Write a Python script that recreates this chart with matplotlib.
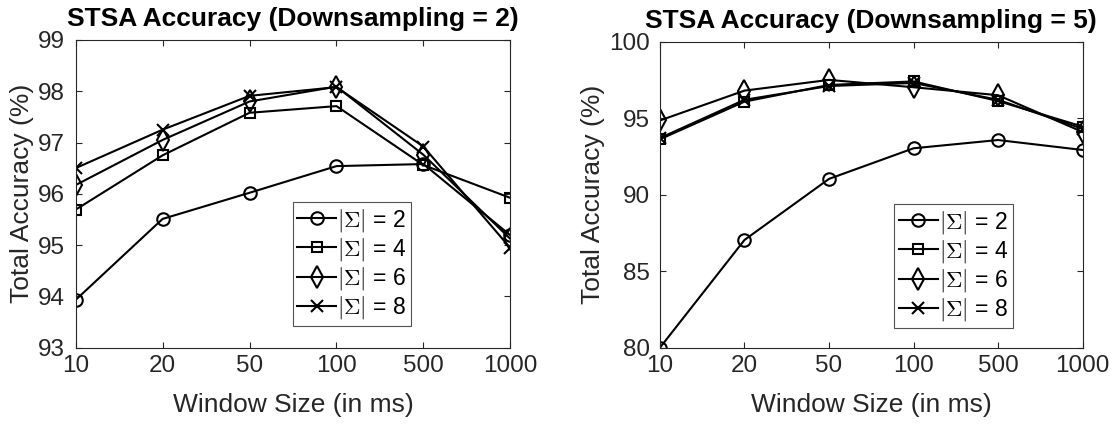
import numpy as np
import matplotlib
matplotlib.use('Agg')
import matplotlib.pyplot as plt

plt.rcParams['font.family'] = ['Liberation Sans', 'DejaVu Sans']
plt.rcParams['mathtext.fontset'] = 'cm'

windows = ['10', '20', '50', '100', '500', '1000']
labels = [r'$|\Sigma|$ = 2', r'$|\Sigma|$ = 4', r'$|\Sigma|$ = 6', r'$|\Sigma|$ = 8']
markers = ['o', 's', 'd', 'x']
msizes = [9, 7.5, 11, 8]

# downsampling = 2
ds2_s2 = [93.93, 95.51, 96.02, 96.54, 96.58, 95.19]
ds2_s4 = [95.69, 96.75, 97.58, 97.71, 96.56, 95.92]
ds2_s6 = [96.17, 97.05, 97.80, 98.09, 96.76, 95.12]
ds2_s8 = [96.50, 97.25, 97.91, 98.08, 96.92, 94.94]

# downsampling = 5
ds5_s2 = [80.0, 87.04, 91.03, 93.03, 93.57, 92.92]
ds5_s4 = [93.62, 96.08, 97.17, 97.40, 96.12, 94.45]
ds5_s6 = [94.85, 96.80, 97.50, 97.02, 96.50, 94.10]
ds5_s8 = [93.70, 96.20, 97.10, 97.30, 96.20, 94.30]

grey = '#262626'
fig = plt.figure(figsize=(11.12, 4.25), dpi=100)
ax1 = fig.add_axes([0.068, 0.182, 0.391, 0.724])
ax2 = fig.add_axes([0.5935, 0.182, 0.38, 0.720])

def draw(ax, series, title, ylim, yticks, legloc):
    x = np.arange(len(windows))
    for vals, m, ms, lab in zip(series, markers, msizes, labels):
        ax.plot(x, vals, color='black', lw=1.5, marker=m, ms=ms,
                mfc='none', mec='black', mew=1.5, label=lab)
    ax.set_xlim(0, len(windows) - 1)
    ax.set_ylim(*ylim)
    ax.set_xticks(x)
    ax.set_xticklabels(windows)
    ax.set_yticks(yticks)
    ax.tick_params(direction='in', top=True, right=True, labelsize=17.5,
                   colors=grey, length=4)
    ax.tick_params(axis='x', pad=5)
    ax.tick_params(axis='y', pad=7.5)
    for s in ax.spines.values():
        s.set_color(grey)
        s.set_linewidth(0.8)
    ax.set_xlabel('Window Size (in ms)', fontsize=19, color=grey, labelpad=12)
    ax.set_ylabel('Total Accuracy (%)', fontsize=19, color=grey, labelpad=3)
    ax.set_title(title, fontsize=19, fontweight='bold', pad=10)
    leg = ax.legend(loc='upper left', bbox_to_anchor=legloc, fontsize=16.5,
                    frameon=True, fancybox=False, edgecolor=grey,
                    handlelength=1.7, handletextpad=0.05, labelspacing=0.1,
                    borderpad=0.2, borderaxespad=0)
    leg.get_frame().set_linewidth(0.8)

draw(ax1, [ds2_s2, ds2_s4, ds2_s6, ds2_s8],
     'STSA Accuracy (Downsampling = 2)', (93, 99), range(93, 100), (0.499, 0.4735))
draw(ax2, [ds5_s2, ds5_s4, ds5_s6, ds5_s8],
     'STSA Accuracy (Downsampling = 5)', (80, 100), range(80, 101, 5), (0.554, 0.4696))

fig.savefig('out.png', dpi=100)
